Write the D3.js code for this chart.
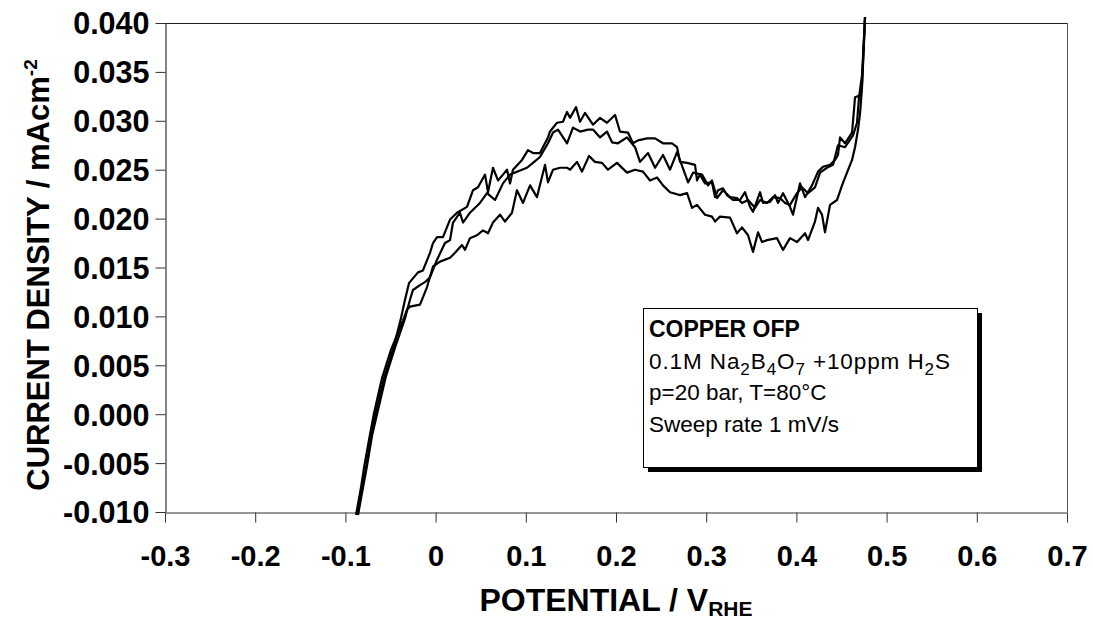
<!DOCTYPE html>
<html>
<head>
<meta charset="utf-8">
<script src="https://cdn.jsdelivr.net/npm/d3@7"></script>
<style>
  html, body { margin: 0; padding: 0; background: #fff; }
  svg { display: block; }
  text { font-family: "Liberation Sans", Arial, sans-serif; }
</style>
</head>
<body>
<svg id="chart" width="1093" height="621"></svg>
<script>
// ---- data (potential V_RHE, current density mA/cm2) ----
const xTicks = [-0.3, -0.2, -0.1, 0, 0.1, 0.2, 0.3, 0.4, 0.5, 0.6, 0.7];
const xTickLabels = ["-0.3", "-0.2", "-0.1", "0", "0.1", "0.2", "0.3", "0.4", "0.5", "0.6", "0.7"];
const yTicks = [-0.010, -0.005, 0.000, 0.005, 0.010, 0.015, 0.020, 0.025, 0.030, 0.035, 0.040];
const yTickLabels = ["-0.010", "-0.005", "0.000", "0.005", "0.010", "0.015", "0.020", "0.025", "0.030", "0.035", "0.040"];

const sweepA = [
  [-0.0871,-0.0103],[-0.0816,-0.0075],[-0.0772,-0.0055],[-0.0716,-0.0024],[-0.0661,0.0002],
  [-0.0572,0.0037],[-0.0472,0.0066],[-0.0384,0.0098],[-0.0339,0.0117],[-0.0295,0.0134],
  [-0.0195,0.0145],[-0.0140,0.0147],[-0.0062,0.0165],[-0.0029,0.0175],[0.0016,0.0181],
  [0.0082,0.0181],[0.0160,0.0199],[0.0237,0.0206],[0.0348,0.0212],[0.0415,0.0229],
  [0.0470,0.0232],[0.0548,0.0245],[0.0581,0.0227],[0.0636,0.0252],[0.0692,0.0239],
  [0.0747,0.0245],[0.0792,0.0250],[0.0825,0.0236],[0.0858,0.0250],[0.0958,0.0260],
  [0.1024,0.0270],[0.1080,0.0267],[0.1157,0.0267],[0.1246,0.0283],[0.1268,0.0289],
  [0.1346,0.0298],[0.1412,0.0299],[0.1457,0.0309],[0.1490,0.0303],[0.1557,0.0314],
  [0.1601,0.0299],[0.1656,0.0308],[0.1745,0.0296],[0.1823,0.0303],[0.1900,0.0298],
  [0.1989,0.0306],[0.2044,0.0289],[0.2133,0.0288],[0.2188,0.0277],[0.2244,0.0280],
  [0.2344,0.0282],[0.2433,0.0282],[0.2521,0.0277],[0.2621,0.0277],[0.2677,0.0273],
  [0.2710,0.0258],[0.2788,0.0257],[0.2876,0.0255],[0.2898,0.0239],[0.2931,0.0245],
  [0.2987,0.0236],[0.3064,0.0237],[0.3098,0.0222],[0.3131,0.0229],[0.3186,0.0231],
  [0.3231,0.0224],[0.3297,0.0219],[0.3375,0.0219],[0.3430,0.0227],[0.3486,0.0212],
  [0.3519,0.0207],[0.3597,0.0227],[0.3630,0.0216],[0.3708,0.0217],[0.3763,0.0224],
  [0.3796,0.0216],[0.3852,0.0226],[0.3929,0.0212],[0.3962,0.0204],[0.4040,0.0236],
  [0.4096,0.0222],[0.4173,0.0234],[0.4240,0.0248],[0.4295,0.0253],[0.4373,0.0255],
  [0.4428,0.0260],[0.4461,0.0265],[0.4484,0.0283],[0.4539,0.0277],[0.4617,0.0288],
  [0.4650,0.0324],[0.4706,0.0326],[0.4728,0.0339],[0.4761,0.0406]
];

const sweepB = [
  [-0.0860,-0.0103],[-0.0805,-0.0075],[-0.0761,-0.0053],[-0.0705,-0.0022],[-0.0639,0.0004],
  [-0.0550,0.0039],[-0.0450,0.0068],[-0.0339,0.0098],[-0.0284,0.0117],[-0.0251,0.0127],
  [-0.0173,0.0132],[-0.0118,0.0135],[-0.0062,0.0140],[0.0016,0.0158],[0.0104,0.0175],
  [0.0160,0.0178],[0.0193,0.0196],[0.0270,0.0206],[0.0304,0.0196],[0.0381,0.0206],
  [0.0492,0.0216],[0.0570,0.0226],[0.0659,0.0219],[0.0747,0.0236],[0.0825,0.0245],
  [0.0902,0.0248],[0.1013,0.0252],[0.1080,0.0257],[0.1157,0.0263],[0.1246,0.0277],
  [0.1302,0.0288],[0.1357,0.0291],[0.1457,0.0277],[0.1523,0.0293],[0.1601,0.0289],
  [0.1690,0.0291],[0.1745,0.0291],[0.1823,0.0283],[0.1900,0.0289],[0.1956,0.0278],
  [0.2022,0.0277],[0.2122,0.0283],[0.2211,0.0273],[0.2266,0.0258],[0.2355,0.0267],
  [0.2433,0.0252],[0.2521,0.0265],[0.2599,0.0250],[0.2677,0.0268],[0.2799,0.0237],
  [0.2854,0.0247],[0.2954,0.0245],[0.3020,0.0234],[0.3064,0.0239],[0.3120,0.0221],
  [0.3186,0.0229],[0.3264,0.0222],[0.3341,0.0221],[0.3397,0.0216],[0.3464,0.0219],
  [0.3541,0.0211],[0.3597,0.0219],[0.3675,0.0216],[0.3741,0.0222],[0.3818,0.0221],
  [0.3874,0.0216],[0.3929,0.0214],[0.4007,0.0226],[0.4062,0.0232],[0.4129,0.0226],
  [0.4206,0.0232],[0.4262,0.0247],[0.4339,0.0252],[0.4406,0.0255],[0.4461,0.0275],
  [0.4539,0.0273],[0.4628,0.0285],[0.4672,0.0298],[0.4694,0.0324],[0.4728,0.0347],
  [0.4761,0.0406]
];

const sweepC = [
  [-0.0882,-0.0103],[-0.0827,-0.0075],[-0.0794,-0.0055],[-0.0738,-0.0026],[-0.0683,0.0001],
  [-0.0594,0.0037],[-0.0494,0.0066],[-0.0361,0.0096],[-0.0317,0.0107],[-0.0284,0.0110],
  [-0.0173,0.0112],[-0.0095,0.0130],[-0.0029,0.0151],[0.0049,0.0156],[0.0160,0.0160],
  [0.0215,0.0165],[0.0293,0.0173],[0.0326,0.0168],[0.0381,0.0180],[0.0459,0.0183],
  [0.0525,0.0188],[0.0581,0.0185],[0.0636,0.0196],[0.0714,0.0204],[0.0769,0.0197],
  [0.0847,0.0206],[0.0902,0.0229],[0.0969,0.0216],[0.1047,0.0234],[0.1124,0.0222],
  [0.1213,0.0255],[0.1246,0.0237],[0.1302,0.0250],[0.1379,0.0252],[0.1457,0.0252],
  [0.1490,0.0250],[0.1568,0.0258],[0.1623,0.0248],[0.1701,0.0264],[0.1767,0.0258],
  [0.1845,0.0257],[0.1911,0.0250],[0.2011,0.0257],[0.2122,0.0247],[0.2211,0.0250],
  [0.2299,0.0248],[0.2377,0.0239],[0.2455,0.0242],[0.2521,0.0234],[0.2599,0.0227],
  [0.2710,0.0224],[0.2788,0.0226],[0.2843,0.0211],[0.2898,0.0214],[0.2987,0.0204],
  [0.3064,0.0202],[0.3098,0.0197],[0.3153,0.0202],[0.3264,0.0201],[0.3341,0.0185],
  [0.3397,0.0191],[0.3464,0.0183],[0.3519,0.0166],[0.3575,0.0186],[0.3619,0.0176],
  [0.3675,0.0178],[0.3785,0.0180],[0.3852,0.0168],[0.3929,0.0180],[0.4007,0.0176],
  [0.4096,0.0185],[0.4129,0.0178],[0.4206,0.0197],[0.4240,0.0211],[0.4284,0.0204],
  [0.4317,0.0186],[0.4373,0.0214],[0.4450,0.0219],[0.4506,0.0234],[0.4561,0.0247],
  [0.4617,0.0260],[0.4650,0.0273],[0.4683,0.0291],[0.4706,0.0308],[0.4728,0.0335],
  [0.4761,0.0406]
];

const sweeps = [sweepA, sweepB, sweepC];

// ---- layout ----
const svg = d3.select("#chart");
const L = 165, R = 1067, T = 23, B = 512;

const x = d3.scaleLinear().domain([-0.3, 0.7]).range([L, R]);
const y = d3.scaleLinear().domain([-0.010, 0.040]).range([B, T]);

// frame (top and right)
svg.append("line").attr("x1", L).attr("x2", R).attr("y1", T + 0.5).attr("y2", T + 0.5)
  .attr("stroke", "#222").attr("stroke-width", 1);
svg.append("line").attr("x1", R + 0.5).attr("x2", R + 0.5).attr("y1", T).attr("y2", B)
  .attr("stroke", "#555").attr("stroke-width", 1);

// axes
const yAxis = d3.axisLeft(y).tickValues(yTicks)
  .tickFormat((d, i) => yTickLabels[i]).tickSize(10).tickSizeOuter(0).tickPadding(6);
const xAxis = d3.axisBottom(x).tickValues(xTicks)
  .tickFormat((d, i) => xTickLabels[i]).tickSize(10).tickSizeOuter(0).tickPadding(23);

const gy = svg.append("g").attr("transform", `translate(${L + 0.5},0)`).call(yAxis);
const gx = svg.append("g").attr("transform", `translate(0,${B + 0.5})`).call(xAxis);

[gx, gy].forEach(g => {
  g.select(".domain").attr("stroke", "#333").attr("stroke-width", 1.2);
  g.selectAll(".tick line").attr("stroke", "#333").attr("stroke-width", 1);
  g.selectAll(".tick text")
    .attr("fill", "#000")
    .style("font-family", '"Liberation Sans", Arial, sans-serif')
    .style("font-weight", "bold")
    .style("font-size", "29px");
});
gy.selectAll(".tick text").attr("dy", "0.36em").style("font-size", "30.5px");

// curves
const line = d3.line().x(d => x(d[0])).y(d => y(d[1]));
svg.append("g").selectAll("path").data(sweeps).join("path")
  .attr("d", line)
  .attr("fill", "none")
  .attr("stroke", "#000")
  .attr("stroke-width", 2.2)
  .attr("stroke-linejoin", "round");

// axis titles
const xt = svg.append("text")
  .attr("x", 616).attr("y", 611)
  .attr("text-anchor", "middle")
  .style("font-weight", "bold").style("font-size", "32px").attr("fill", "#000");
xt.append("tspan").text("POTENTIAL / V");
xt.append("tspan").attr("dy", 5).style("font-size", "21px").text("RHE");

const yt = svg.append("text")
  .attr("transform", `translate(49,${275}) rotate(-90)`)
  .attr("text-anchor", "middle")
  .style("font-weight", "bold").style("font-size", "31px").attr("fill", "#000");
yt.append("tspan").text("CURRENT DENSITY / mAcm");
yt.append("tspan").attr("dy", -12).style("font-size", "19px").text("-2");

// annotation box
const bx = 643, by = 308, bw = 334, bh = 159;
svg.append("rect").attr("x", bx + 5).attr("y", by + 5).attr("width", bw).attr("height", bh)
  .attr("fill", "#000");
svg.append("rect").attr("x", bx + 0.5).attr("y", by + 0.5).attr("width", bw).attr("height", bh)
  .attr("fill", "#fff").attr("stroke", "#000").attr("stroke-width", 1);

const tx = bx + 6;
svg.append("text").attr("x", tx).attr("y", by + 29)
  .style("font-weight", "bold").style("font-size", "23px").attr("fill", "#000")
  .text("COPPER OFP");

function sub(t, parts) {
  let shift = 0;
  parts.forEach(p => {
    if (p.sub) {
      t.append("tspan").attr("dy", 6 - shift).style("font-size", "17px").text(p.sub);
      shift = 6;
    } else {
      t.append("tspan").attr("dy", -shift).text(p.t);
      shift = 0;
    }
  });
}
const l2 = svg.append("text").attr("x", tx).attr("y", by + 61)
  .style("font-size", "22.5px").style("letter-spacing", "0.9px").attr("fill", "#000");
sub(l2, [{t: "0.1M Na"}, {sub: "2"}, {t: "B"}, {sub: "4"}, {t: "O"}, {sub: "7"}, {t: "\u00A0+10ppm H"}, {sub: "2"}, {t: "S"}]);

svg.append("text").attr("x", tx).attr("y", by + 92)
  .style("font-size", "22.5px").attr("fill", "#000")
  .text("p=20 bar, T=80°C");
svg.append("text").attr("x", tx).attr("y", by + 124)
  .style("font-size", "22.5px").attr("fill", "#000")
  .text("Sweep rate 1 mV/s");
</script>
</body>
</html>
